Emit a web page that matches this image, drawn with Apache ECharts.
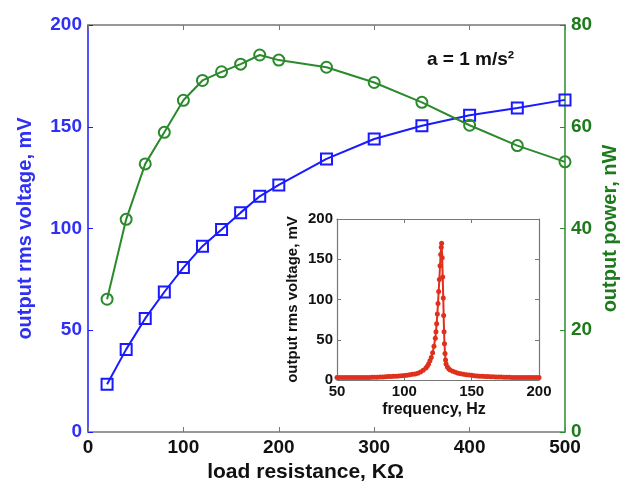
<!DOCTYPE html>
<html>
<head>
<meta charset="utf-8">
<script src="https://cdn.jsdelivr.net/npm/echarts@6/dist/echarts.min.js"></script>
<style>
  html, body { margin: 0; padding: 0; background: #fff; }
  #main { width: 620px; height: 485px; }
</style>
</head>
<body>
<div id="main"></div>
<script>
// main plot: load resistance sweep
var resistance = [20, 40, 60, 80, 100, 120, 140, 160, 180, 200, 250, 300, 350, 400, 450, 500]
var voltage = [23.5, 40.6, 55.8, 68.8, 80.8, 91.3, 99.5, 107.8, 115.8, 121.4, 134.2, 144, 150.5, 155.7, 159.2, 163.2]
var power = [26.1, 41.8, 52.7, 58.9, 65.2, 69.1, 70.8, 72.3, 74.1, 73.1, 71.7, 68.7, 64.8, 60.3, 56.3, 53.1]

// inset: frequency sweep
var freq = [50, 52, 54, 56, 58, 60, 62, 64, 66, 68, 70, 72, 74, 76, 78, 80, 82, 84, 86, 88, 90, 92, 94, 96, 98, 100,
  102, 104, 106, 108, 110, 112, 114, 116, 117, 118, 119, 120, 121, 122, 123, 123.5, 124, 124.5, 125, 125.5,
  126, 126.5, 127, 127.4, 127.7, 128.1, 128.5, 128.9, 129.2, 129.5, 129.8, 130.2, 130.6, 131, 132, 133, 134,
  136, 138, 140, 142, 144, 146, 148, 150, 152, 154, 156, 158, 160, 162, 164, 166, 168, 170, 172, 174, 176,
  178, 180, 182, 184, 186, 188, 190, 192, 194, 196, 198, 200]
var rmsVolt = [3, 3, 3, 3, 3, 3, 3, 3, 3, 3, 3, 3, 3.2, 3.3, 3.4, 3.5, 3.6, 3.8, 4, 4.2, 4.4, 4.6, 4.8, 5, 5.3, 5.6,
  6, 6.5, 7, 7.6, 8.5, 10, 12, 15, 17, 20, 24, 28, 34, 42, 52, 60, 70, 82, 95, 110,
  125, 142, 156, 165, 170, 152, 128, 102, 80, 60, 45, 33, 25, 20, 16, 14, 12.5,
  11, 9.5, 8.5, 7.8, 7.2, 6.6, 6.2, 5.8, 5.4, 5.1, 4.8, 4.6, 4.4, 4.2, 4, 3.9, 3.8, 3.7, 3.6, 3.5, 3.4,
  3.3, 3.2, 3.1, 3, 3, 3, 3, 3, 3, 3, 3, 3]

var blue = "#1a1aff"
var blueText = "#3030f5"
var green = "#2b8a2b"
var greenText = "#1d7a1d"
var red = "#e0301c"
var frame = "#777"
var font = "Liberation Sans"

function pairs(xs, ys){
    return xs.map(function(x, i){ return [x, ys[i]] })
}

// box-style axis helper (MATLAB look: inward ticks, no splitlines)
function axisBits(color, width, tickLen){
    return {
        axisLine: { onZero: false, lineStyle: { color: color, width: width } },
        axisTick: { inside: true, length: tickLen, lineStyle: { color: color } },
        splitLine: { show: false }
    }
}

var chart = echarts.init(document.getElementById("main"))
var option = {
    backgroundColor: "#fff",
    animation: false,
    textStyle: { fontFamily: font },
    graphic: [{
        type: "text",
        left: 427,
        top: 50,
        style: { text: "a = 1 m/s²", font: "bold 19px " + font, fill: "#111" }
    }],
    grid: [
        { left: 88, top: 25, width: 477, height: 407, outerBoundsMode: "none" },
        { left: 337, top: 219, width: 202, height: 161, outerBoundsMode: "none",
          show: true, backgroundColor: "#fff", borderWidth: 0, z: 5 }
    ],
    xAxis: [
        Object.assign({
            gridIndex: 0, type: "value", min: 0, max: 500, interval: 100,
            name: "load resistance, KΩ", nameLocation: "middle", nameGap: 26,
            nameTextStyle: { color: "#111", fontWeight: "bold", fontSize: 21, padding: [0, 42, 0, 0] },
            axisLabel: { color: "#111", fontWeight: "bold", fontSize: 19, margin: 6 }
        }, axisBits(frame, 1.5, 5)),
        Object.assign({
            gridIndex: 0, type: "value", position: "top", min: 0, max: 500, interval: 100,
            axisLabel: { show: false }
        }, axisBits(frame, 1.5, 5)),
        Object.assign({
            gridIndex: 1, type: "value", min: 50, max: 200, interval: 50,
            name: "frequency, Hz", nameLocation: "middle", nameGap: 22,
            nameTextStyle: { color: "#111", fontWeight: "bold", fontSize: 16, padding: [0, 8, 0, 0] },
            axisLabel: { color: "#111", fontWeight: "bold", fontSize: 15, margin: 4 },
            z: 6
        }, axisBits(frame, 1.2, 4)),
        Object.assign({
            gridIndex: 1, type: "value", position: "top", min: 50, max: 200, interval: 50,
            axisLabel: { show: false },
            z: 6
        }, axisBits(frame, 1.2, 4))
    ],
    yAxis: [
        Object.assign({
            gridIndex: 0, type: "value", position: "left", min: 0, max: 200, interval: 50,
            name: "output rms voltage, mV", nameLocation: "middle", nameGap: 53,
            nameTextStyle: { color: blueText, fontWeight: "bold", fontSize: 20 },
            axisLabel: { color: blueText, fontWeight: "bold", fontSize: 19, margin: 6 }
        }, axisBits(blue, 1.5, 5)),
        Object.assign({
            gridIndex: 0, type: "value", position: "right", min: 0, max: 80, interval: 20,
            name: "output power, nW", nameLocation: "middle", nameGap: 35, nameMoveOverlap: false,
            nameTextStyle: { color: greenText, fontWeight: "bold", fontSize: 20 },
            axisLabel: { color: greenText, fontWeight: "bold", fontSize: 19, margin: 6 }
        }, axisBits(green, 1.5, 5)),
        Object.assign({
            gridIndex: 1, type: "value", position: "left", min: 0, max: 200, interval: 50,
            name: "output rms voltage, mV", nameLocation: "middle", nameGap: 37,
            nameTextStyle: { color: "#111", fontWeight: "bold", fontSize: 15 },
            axisLabel: { color: "#111", fontWeight: "bold", fontSize: 15, margin: 4 },
            z: 6
        }, axisBits(frame, 1.2, 4)),
        Object.assign({
            gridIndex: 1, type: "value", position: "right", min: 0, max: 200, interval: 50,
            axisLabel: { show: false },
            z: 6
        }, axisBits(frame, 1.2, 4))
    ],
    series: [
        {
            type: "line", xAxisIndex: 0, yAxisIndex: 0,
            data: pairs(resistance, voltage),
            symbol: "rect", symbolSize: 11,
            lineStyle: { color: blue, width: 2 },
            itemStyle: { color: "rgba(0,0,0,0)", borderColor: blue, borderWidth: 2 }
        },
        {
            type: "line", xAxisIndex: 0, yAxisIndex: 1,
            data: pairs(resistance, power),
            symbol: "circle", symbolSize: 11,
            lineStyle: { color: green, width: 2 },
            itemStyle: { color: "rgba(0,0,0,0)", borderColor: green, borderWidth: 2 }
        },
        {
            type: "line", xAxisIndex: 2, yAxisIndex: 2,
            data: pairs(freq, rmsVolt),
            symbol: "circle", symbolSize: 5,
            lineStyle: { color: red, width: 2 },
            itemStyle: { color: red },
            z: 7
        }
    ]
}
chart.setOption(option)
</script>
</body>
</html>
